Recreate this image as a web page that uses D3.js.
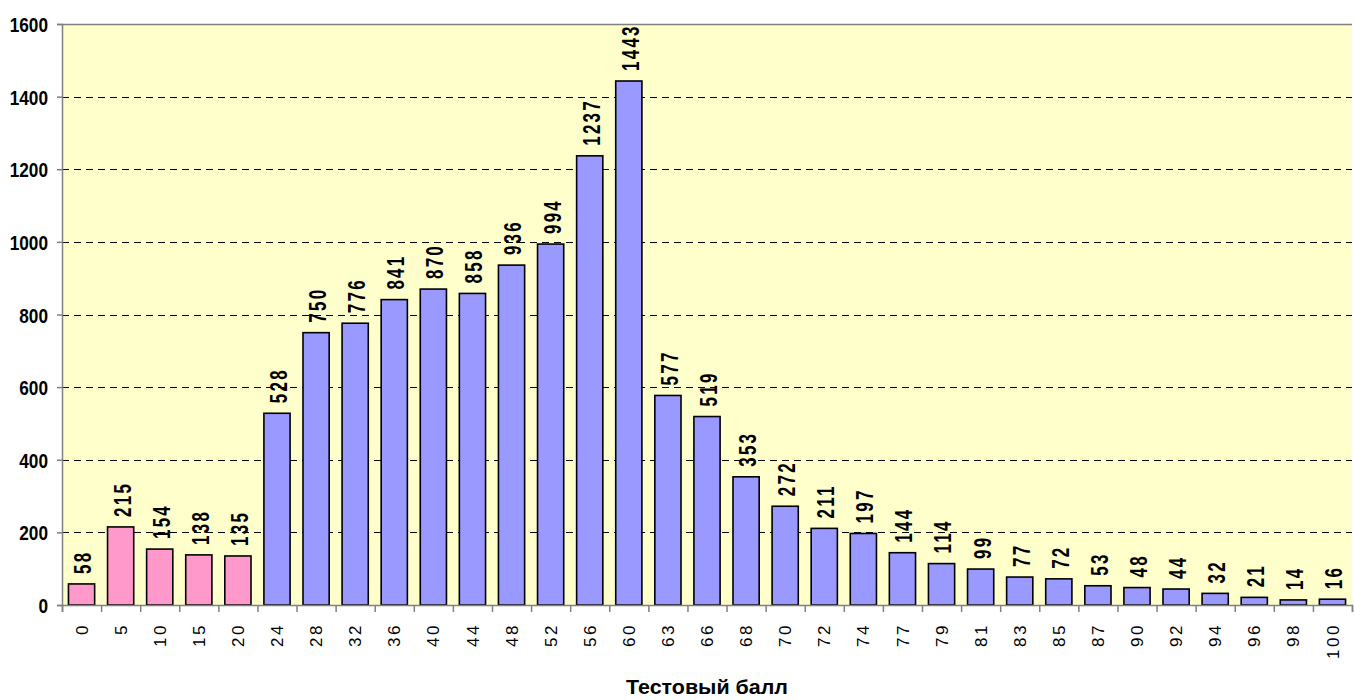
<!DOCTYPE html>
<html><head><meta charset="utf-8">
<script src="https://cdn.jsdelivr.net/npm/d3@7"></script>
<style>body{margin:0;background:#fff}</style>
</head><body>
<svg id="c" width="1354" height="700"></svg>
<script>
const categories = ["0","5","10","15","20","24","28","32","36","40","44","48","52","56","60","63","66","68","70","72","74","77","79","81","83","85","87","90","92","94","96","98","100"];
const values = [58,215,154,138,135,528,750,776,841,870,858,936,994,1237,1443,577,519,353,272,211,197,144,114,99,77,72,53,48,44,32,21,14,16];
const pinkCount = 5;
const yTicks = [0,200,400,600,800,1000,1200,1400,1600];
const xTitle = "Тестовый балл";

const svg = d3.select("#c");
const L=62, R=1352, T=24, B=605;
const font = "'Liberation Sans', Arial, sans-serif";
const x = d3.scaleBand().domain(categories).range([L,R]).paddingInner(0.33).paddingOuter(0.165);
const y = d3.scaleLinear().domain([0,1600]).range([B,T]);

svg.append("rect").attr("x",L).attr("y",T).attr("width",R-L).attr("height",B-T).attr("fill","#FFFFCC");
svg.append("g").selectAll("line").data(yTicks.filter(d=>d>0&&d<1600)).join("line")
  .attr("x1",L).attr("x2",R).attr("y1",d=>Math.round(y(d))+0.5).attr("y2",d=>Math.round(y(d))+0.5)
  .attr("stroke","#000").attr("stroke-width",1).attr("stroke-dasharray","7,5");
svg.append("line").attr("x1",L).attr("x2",R).attr("y1",T+0.5).attr("y2",T+0.5).attr("stroke","#808080").attr("stroke-width",1.5);

svg.append("g").selectAll("rect").data(values).join("rect")
  .attr("x",(d,i)=>x(categories[i])).attr("width",x.bandwidth())
  .attr("y",d=>y(d)).attr("height",d=>B-y(d))
  .attr("fill",(d,i)=>i<pinkCount?"#FF99CC":"#9999FF")
  .attr("stroke","#000").attr("stroke-width",1.6);

// y axis
const ya = d3.axisLeft(y).tickValues(yTicks).tickSize(5).tickFormat("");
const gy = svg.append("g").attr("transform",`translate(${L},0)`).call(ya);
gy.select(".domain").attr("stroke","#808080").attr("stroke-width",1.5);
gy.selectAll(".tick line").attr("stroke","#808080").attr("stroke-width",1.5);
gy.selectAll(".tick").append("g").attr("transform","translate(-14,0) scale(0.82,1)")
  .append("text").attr("text-anchor","end").attr("dy","0.36em")
  .attr("font-family",font).attr("font-weight","bold").attr("font-size",21).attr("fill","#000")
  .text(d=>d3.format("d")(d));

// x axis edge ticks
const xEdges = d3.axisBottom(d3.scaleLinear().domain([0,categories.length]).range([L,R]))
  .tickValues(d3.range(categories.length+1)).tickSize(7).tickFormat("");
const gxe = svg.append("g").attr("transform",`translate(0,${B})`).call(xEdges);
gxe.select(".domain").attr("stroke","#808080").attr("stroke-width",1.5);
gxe.selectAll(".tick line").attr("stroke","#808080").attr("stroke-width",1.5);

const xa = d3.axisBottom(x).tickSize(0);
const gx = svg.append("g").attr("transform",`translate(0,${B})`).call(xa);
gx.select(".domain").remove();
gx.selectAll("text").attr("font-family",font).attr("font-size",17)
  .attr("letter-spacing","2.5px").attr("fill","#000")
  .attr("transform","rotate(-90)").attr("text-anchor","end").attr("dy","0.36em").attr("y",0).attr("x",-18);

// data labels
svg.append("g").selectAll("text").data(values).join("text")
  .attr("transform",(d,i)=>`translate(${x(categories[i])+x.bandwidth()/2},${y(d)-10}) rotate(-90) scale(0.72,1)`)
  .attr("dy","0.42em").attr("text-anchor","start")
  .attr("font-family",font).attr("font-weight","bold").attr("font-size",23.5)
  .attr("letter-spacing","3.2px").text(d=>d);

svg.append("text").attr("x",(L+R)/2).attr("y",694).attr("text-anchor","middle")
  .attr("font-family",font).attr("font-weight","bold").attr("font-size",20)
  .attr("textLength",162).attr("lengthAdjust","spacingAndGlyphs").text(xTitle);
</script>
</body></html>
